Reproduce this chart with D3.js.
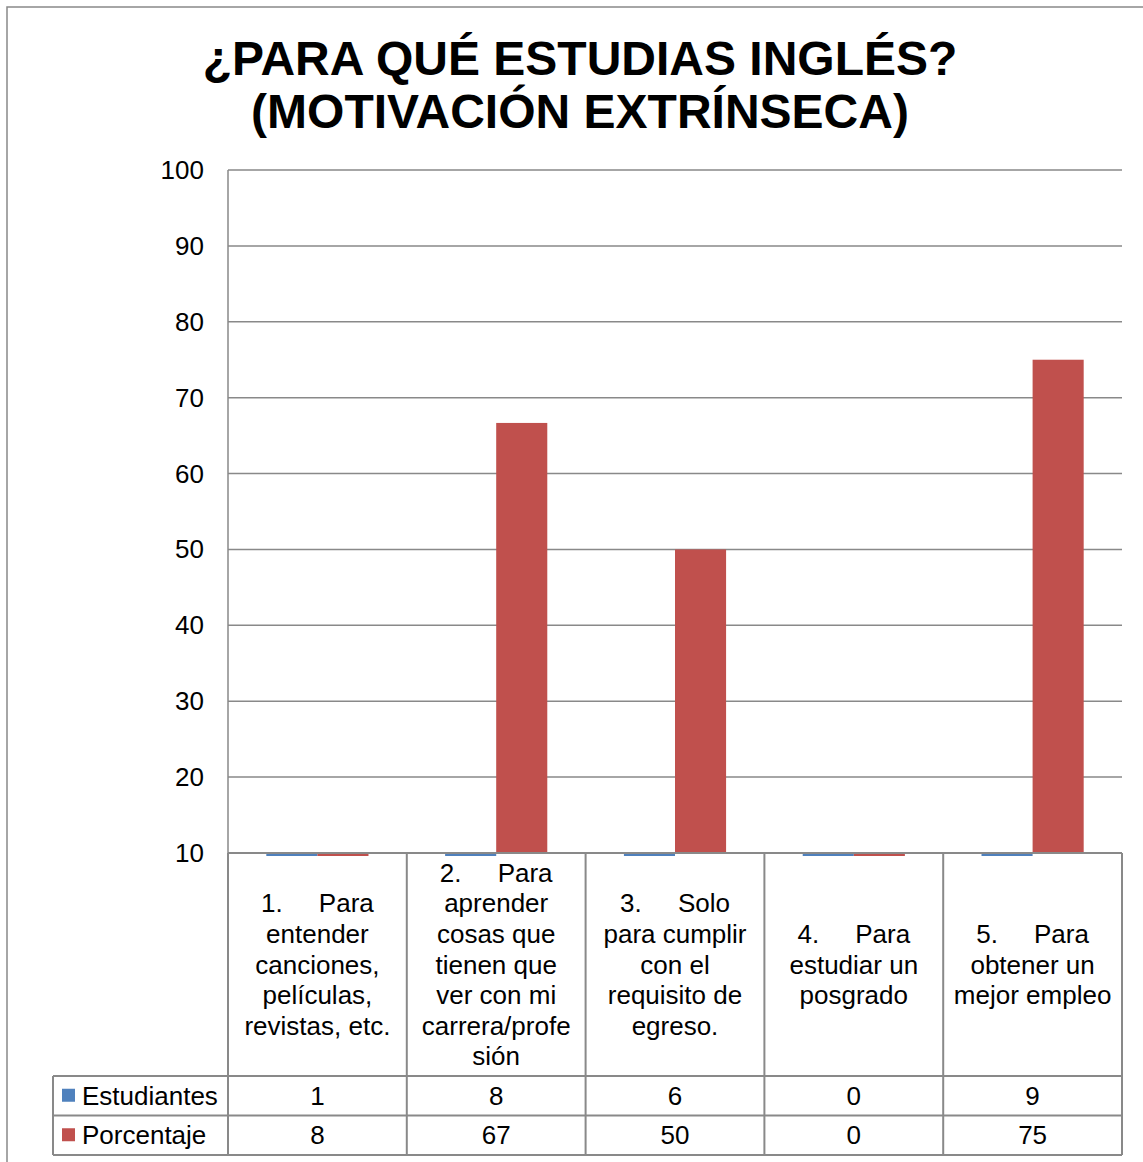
<!DOCTYPE html>
<html>
<head>
<meta charset="utf-8">
<script src="https://cdn.jsdelivr.net/npm/d3@7"></script>
<style>
  body { margin: 0; background: #fff; }
  svg { display: block; font-family: "Liberation Sans", Arial, sans-serif; }
</style>
</head>
<body>
<svg></svg>
<script>
var titleLines = ["¿PARA QUÉ ESTUDIAS INGLÉS?", "(MOTIVACIÓN EXTRÍNSECA)"]
var categories = [
    ["1.     Para", "entender", "canciones,", "películas,", "revistas, etc."],
    ["2.     Para", "aprender", "cosas que", "tienen que", "ver con mi", "carrera/profe", "sión"],
    ["3.     Solo", "para cumplir", "con el", "requisito de", "egreso."],
    ["4.     Para", "estudiar un", "posgrado"],
    ["5.     Para", "obtener un", "mejor empleo"]
]
var seriesNames = ["Estudiantes", "Porcentaje"]
var estudiantes = [1, 8, 6, 0, 9]
var porcentaje = [8.33, 66.67, 50, 0, 75]
var tableEstudiantes = ["1", "8", "6", "0", "9"]
var tablePorcentaje = ["8", "67", "50", "0", "75"]
var yTicks = [10, 20, 30, 40, 50, 60, 70, 80, 90, 100]
var colors = ["#4f81bd", "#c0504d"]

var win_width = 1143;
var win_height = 1162;
var gray = "#898989";
var fontSize = 26;

var plot_left = 228;
var plot_right = 1122;
var plot_top = 170;
var plot_bottom = 853;
var row1 = 1076;
var row2 = 1115.5;
var row3 = 1155;
var legend_left = 53;

var svg = d3.select("svg")
    .attr("width", win_width)
    .attr("height", win_height);

// outer chart border (runs off the picture on the right and bottom)
svg.append("rect")
    .attr("x", 7).attr("y", 7)
    .attr("width", win_width + 10).attr("height", win_height + 10)
    .attr("fill", "none").attr("stroke", gray).attr("stroke-width", 1.5);

// title
svg.append("g").selectAll("text")
    .data(titleLines)
    .join("text")
    .attr("x", 580)
    .attr("y", (d, i) => 75 + i * 53)
    .attr("text-anchor", "middle")
    .attr("font-size", 48)
    .attr("font-weight", "bold")
    .attr("fill", "#000")
    .text(d => d);

var idx = d3.range(categories.length);

var xScale = d3.scaleBand().domain(idx).range([plot_left, plot_right]);
var xInner = d3.scaleBand().domain(seriesNames).range([0, xScale.bandwidth()])
    .paddingInner(0).paddingOuter(0.75);
var yScale = d3.scaleLinear().domain([10, 100]).range([plot_bottom, plot_top]);

// gridlines
svg.append("g").selectAll("line")
    .data(yTicks)
    .join("line")
    .attr("x1", plot_left).attr("x2", plot_right)
    .attr("y1", d => yScale(d)).attr("y2", d => yScale(d))
    .attr("stroke", gray).attr("stroke-width", 1.5);

// y tick labels
svg.append("g").selectAll("text")
    .data(yTicks)
    .join("text")
    .attr("x", 204)
    .attr("y", d => yScale(d) + 9)
    .attr("text-anchor", "end")
    .attr("font-size", fontSize)
    .text(d => d);

// bars, clipped to the plot so values under 10 show as a sliver below the axis
svg.append("clipPath").attr("id", "plotclip")
    .append("rect")
    .attr("x", plot_left).attr("y", plot_top)
    .attr("width", plot_right - plot_left).attr("height", plot_bottom - plot_top + 3);

var barData = [];
[estudiantes, porcentaje].forEach(function(values, s) {
    values.forEach(function(v, i) {
        barData.push({ cat: i, series: seriesNames[s], value: v, color: colors[s] });
    });
});

svg.append("g").attr("clip-path", "url(#plotclip)")
    .selectAll("rect")
    .data(barData)
    .join("rect")
    .attr("x", d => xScale(d.cat) + xInner(d.series))
    .attr("width", xInner.bandwidth())
    .attr("y", d => yScale(Math.max(d.value, 10)))
    .attr("height", d => Math.abs(yScale(d.value) - yScale(10)))
    .attr("fill", d => d.color);

// axis line on top of bars
svg.append("line")
    .attr("x1", plot_left).attr("x2", plot_right)
    .attr("y1", plot_bottom).attr("y2", plot_bottom)
    .attr("stroke", gray).attr("stroke-width", 2);

// plot left edge
svg.append("line")
    .attr("x1", plot_left).attr("x2", plot_left)
    .attr("y1", plot_top).attr("y2", plot_bottom)
    .attr("stroke", gray).attr("stroke-width", 1.5);

// data table grid
var grid = svg.append("g").attr("stroke", gray).attr("stroke-width", 2).attr("fill", "none");
var colEdges = idx.map(i => xScale(i)).concat([plot_right]);
grid.selectAll("line.v")
    .data(colEdges)
    .join("line")
    .attr("x1", d => d).attr("x2", d => d)
    .attr("y1", plot_bottom).attr("y2", row3);
grid.append("line")
    .attr("x1", legend_left).attr("x2", legend_left)
    .attr("y1", row1).attr("y2", row3);
grid.selectAll("line.h")
    .data([row1, row2, row3])
    .join("line")
    .attr("x1", legend_left).attr("x2", plot_right)
    .attr("y1", d => d).attr("y2", d => d);

// category labels
var lineH = 30.6;
var labelMid = (plot_bottom + row1) / 2;
var catText = svg.append("g").selectAll("text")
    .data(categories)
    .join("text")
    .attr("text-anchor", "middle")
    .attr("font-size", fontSize)
    .style("white-space", "pre");

catText.selectAll("tspan")
    .data((d, i) => d.map((t, j) => ({ t: t, j: j, n: d.length, i: i })))
    .join("tspan")
    .attr("x", d => xScale(d.i) + xScale.bandwidth() / 2)
    .attr("y", d => labelMid + (d.j - (d.n - 1) / 2) * lineH + 9)
    .text(d => d.t);

// table values
[tableEstudiantes, tablePorcentaje].forEach(function(values, s) {
    var top = s == 0 ? row1 : row2;
    var bottom = s == 0 ? row2 : row3;
    var mid = (top + bottom) / 2;

    svg.append("g").selectAll("text")
        .data(values)
        .join("text")
        .attr("x", (d, i) => xScale(i) + xScale.bandwidth() / 2)
        .attr("y", mid + 9)
        .attr("text-anchor", "middle")
        .attr("font-size", fontSize)
        .text(d => d);

    svg.append("rect")
        .attr("x", 62).attr("y", mid - 7)
        .attr("width", 13).attr("height", 13)
        .attr("fill", colors[s]);

    svg.append("text")
        .attr("x", 82).attr("y", mid + 9)
        .attr("font-size", fontSize)
        .text(seriesNames[s]);
});
</script>
</body>
</html>
